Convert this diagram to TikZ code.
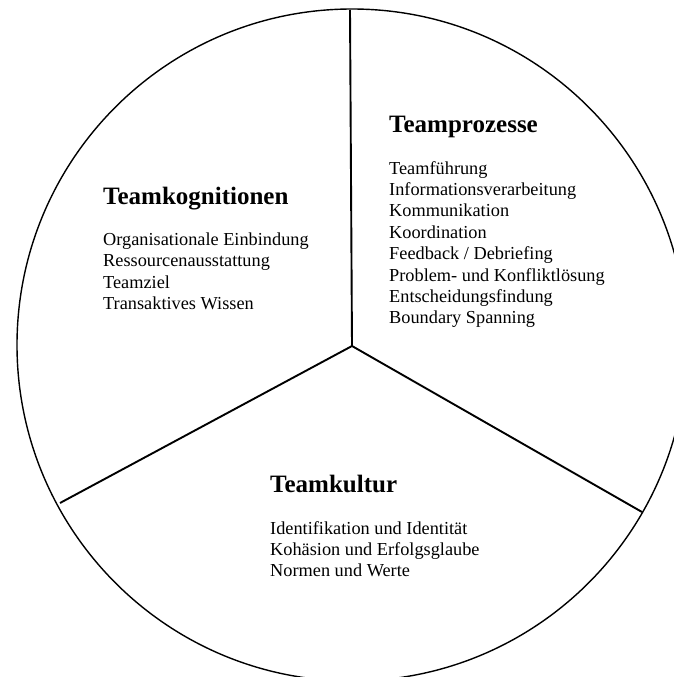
\documentclass[tikz,border=0pt]{standalone}
\usepackage{fontspec}
\setmainfont{Liberation Serif}
\begin{document}
\begin{tikzpicture}[x=1pt,y=-1pt,
  ring/.style={line width=1.4pt},
  spoke/.style={line width=1.9pt},
  head/.style={anchor=base west,inner sep=0pt,font=\fontsize{25}{30}\selectfont\bfseries},
  item/.style={anchor=base west,inner sep=0pt,font=\fontsize{18.3}{21.4}\selectfont}]
\useasboundingbox (0,0) rectangle (674,677);
\begin{scope}
  \clip (0,0) rectangle (674,677);
  \draw[ring] (352,345) ellipse [x radius=335pt, y radius=336pt];
\end{scope}
\coordinate (c) at (352,346);
\coordinate (t) at (350,10);
\coordinate (l) at (60,503);
\coordinate (r) at (642,512);
\draw[spoke] (t) -- (c);
\draw[spoke] (l) -- (c) -- (r);

% Teamkognitionen
\node[head] (k0) at (103,204) {Teamkognitionen};
\node[item] (k1) at (103,245.2) {Organisationale Einbindung};
\node[item] (k2) at (103,266.6) {Ressourcenausstattung};
\node[item] (k3) at (103,288) {Teamziel};
\node[item] (k4) at (103,309.4) {Transaktives Wissen};

% Teamprozesse
\node[head] (p0) at (389,132) {Teamprozesse};
\node[item] (p1) at (389,174) {Teamführung};
\node[item] (p2) at (389,195.4) {Informationsverarbeitung};
\node[item] (p3) at (389,216.8) {Kommunikation};
\node[item] (p4) at (389,238.2) {Koordination};
\node[item] (p5) at (389,259.6) {Feedback / Debriefing};
\node[item] (p6) at (389,281) {Problem- und Konfliktlösung};
\node[item] (p7) at (389,302.4) {Entscheidungsfindung};
\node[item] (p8) at (389,323.8) {Boundary Spanning};

% Teamkultur
\node[head] (u0) at (270,492) {Teamkultur};
\node[item] (u1) at (270,534) {Identifikation und Identität};
\node[item] (u2) at (270,555.4) {Kohäsion und Erfolgsglaube};
\node[item] (u3) at (270,576.8) {Normen und Werte};
\end{tikzpicture}
\end{document}
